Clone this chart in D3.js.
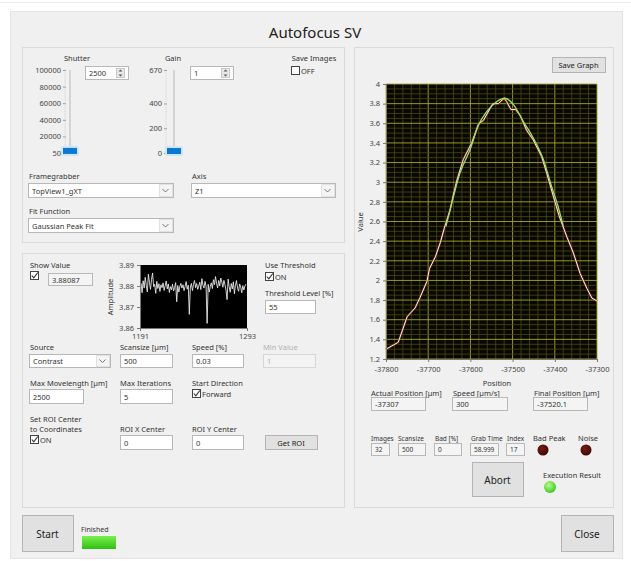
<!DOCTYPE html>
<html>
<head>
<meta charset="utf-8">
<script src="https://cdn.jsdelivr.net/npm/d3@7"></script>
<style>
  body { margin: 0; background: #ffffff; }
  svg { display: block; font-family: "Noto Sans", "DejaVu Sans", sans-serif; }
</style>
</head>
<body>
<svg id="panel" width="631" height="561"></svg>
<script>
// ---- Focus scan: measured contrast along the Z1 axis ----
const scanPositions = [-37800, -37771, -37750, -37731, -37719, -37703, -37697, -37683, -37671, -37662,
  -37648, -37640, -37632, -37617, -37597, -37581, -37569, -37547, -37534, -37520,
  -37514, -37504, -37493, -37482, -37467, -37451, -37431, -37419, -37403, -37390,
  -37372, -37356, -37340, -37324, -37312, -37300];
const scanValues = [1.30, 1.37, 1.63, 1.72, 1.83, 1.99, 2.12, 2.24, 2.39, 2.53,
  2.72, 2.88, 3.02, 3.23, 3.40, 3.59, 3.63, 3.80, 3.80, 3.855,
  3.82, 3.74, 3.74, 3.68, 3.53, 3.43, 3.26, 3.09, 2.85, 2.66,
  2.45, 2.28, 2.07, 1.92, 1.82, 1.79];

// Gaussian peak fit above the threshold level
const fitPositions = [-37658, -37648, -37625, -37601, -37581, -37561, -37538, -37518, -37498, -37475,
  -37451, -37427, -37407, -37392, -37380];
const fitValues = [2.55, 2.72, 3.09, 3.33, 3.58, 3.72, 3.82, 3.855, 3.79, 3.62,
  3.45, 3.23, 2.95, 2.75, 2.55];

const valueTicks = [1.2, 1.4, 1.6, 1.8, 2, 2.2, 2.4, 2.6, 2.8, 3, 3.2, 3.4, 3.6, 3.8, 4];
const positionTicks = [-37800, -37700, -37600, -37500, -37400, -37300];

// ---- Live amplitude trace (frames 1191..1293) ----
const amplitudeFrames = [1191, 1293];
const amplitudeValues = [3.8795, 3.8812, 3.8768, 3.8825, 3.8790, 3.8841, 3.8803, 3.8772, 3.8856, 3.8818,
  3.8784, 3.8832, 3.8862, 3.8797, 3.8808, 3.8765, 3.8822, 3.8788, 3.8811, 3.8774,
  3.8806, 3.8792, 3.8815, 3.8779, 3.8801, 3.8824, 3.8786, 3.8810, 3.8769, 3.8797,
  3.8782, 3.8809, 3.8776, 3.8793, 3.8816, 3.8725, 3.8802, 3.8771, 3.8799, 3.8812,
  3.8790, 3.8806, 3.8778, 3.8798, 3.8821, 3.8785, 3.8804, 3.8665, 3.8795, 3.8812,
  3.8778, 3.8808, 3.8826, 3.8792, 3.8812, 3.8784, 3.8800, 3.8818, 3.8783, 3.8835,
  3.8804, 3.8790, 3.8822, 3.8796, 3.8622, 3.8808, 3.8771, 3.8798, 3.8815, 3.8788,
  3.8830, 3.8806, 3.8845, 3.8812, 3.8791, 3.8826, 3.8800, 3.8838, 3.8819, 3.8794,
  3.8827, 3.8806, 3.8779, 3.8735, 3.8833, 3.8797, 3.8770, 3.8812, 3.8786, 3.8820,
  3.8763, 3.8804, 3.8826, 3.8789, 3.8775, 3.8810, 3.8795, 3.8768, 3.8802, 3.8781,
  3.8799, 3.88087];
const amplitudeTicks = [3.86, 3.87, 3.88, 3.89];

// ---- Slider scales ----
const shutterTicks = [100000, 80000, 60000, 40000, 20000, 50];
const shutterValue = 2500;
const gainTicks = [670, 400, 200, 0];
const gainValue = 1;

const svg = d3.select("#panel");
const defs = svg.append("defs");

// ---------- helpers ----------
const TXT = "#333333";
const LBL = 7.5;
function txt(x, y, s, o = {}) {
  return svg.append("text")
    .attr("x", x).attr("y", y)
    .attr("font-size", o.size || LBL)
    .attr("text-anchor", o.anchor || "start")
    .attr("dominant-baseline", "central")
    .attr("fill", o.fill || TXT)
    .text(s);
}
function frame(x, y, w, h, fill, stroke) {
  return svg.append("rect").attr("x", x + 0.5).attr("y", y + 0.5)
    .attr("width", w).attr("height", h)
    .attr("fill", fill).attr("stroke", stroke).attr("stroke-width", 1);
}
function box(x, y, w, h, s, o = {}) {
  frame(x, y, w, h, o.fill || "#ffffff", o.stroke || "#b8b8b8");
  txt(x + 4, y + h / 2 + 0.5, s, { fill: o.fill2 || TXT, size: o.size || LBL });
}
function dropdown(x, y, w, h, s) {
  box(x, y, w, h, s);
  frame(x + w - 14, y + 1, 13, h - 2, "#f4f4f4", "#e2e2e2");
  const cx = x + w - 7.5, cy = y + h / 2 + 0.5;
  svg.append("path").attr("d", `M${cx - 3},${cy - 1.5}L${cx},${cy + 1.5}L${cx + 3},${cy - 1.5}`)
    .attr("fill", "none").attr("stroke", "#777").attr("stroke-width", 1);
}
function spinner(x, y, w, h, s) {
  box(x, y, w, h, s);
  const bx = x + w - 12;
  frame(bx, y + 2, 8, h - 4, "#e8e8e8", "#c8c8c8");
  const cx = bx + 4.5;
  svg.append("path").attr("d", `M${cx - 2},${y + 5.5}L${cx + 2},${y + 5.5}L${cx},${y + 3.5}Z`).attr("fill", "#555");
  svg.append("path").attr("d", `M${cx - 2},${y + h - 4.5}L${cx + 2},${y + h - 4.5}L${cx},${y + h - 2.5}Z`).attr("fill", "#555");
}
function checkbox(x, y, checked, label) {
  frame(x, y, 8, 8, "#ffffff", "#444");
  if (checked) {
    svg.append("path").attr("d", `M${x + 1.8},${y + 4.5}L${x + 3.8},${y + 6.8}L${x + 7.8},${y + 1.5}`)
      .attr("fill", "none").attr("stroke", "#333").attr("stroke-width", 1.1);
  }
  if (label) txt(x + 10, y + 4.5, label);
}
function button(x, y, w, h, s, size) {
  frame(x, y, w, h, "#e1e1e1", "#b4b4b4");
  txt(x + w / 2, y + h / 2 + 0.5, s, { anchor: "middle", size: size || LBL, fill: "#222" });
}
function led(cx, cy, r, id, c0, c1) {
  const g = defs.append("radialGradient").attr("id", id).attr("cx", "40%").attr("cy", "35%").attr("r", "70%");
  g.append("stop").attr("offset", "0%").attr("stop-color", c0);
  g.append("stop").attr("offset", "100%").attr("stop-color", c1);
  svg.append("circle").attr("cx", cx).attr("cy", cy).attr("r", r).attr("fill", `url(#${id})`);
}
function styleAxis(g) {
  g.selectAll("text").attr("font-size", 7.5).attr("fill", "#444").attr("font-family", "Noto Sans, sans-serif");
  g.selectAll("line").attr("stroke", "#777");
  g.select(".domain").attr("stroke", "#777");
}

// ---------- window background ----------
svg.append("line").attr("x1", 0).attr("x2", 631).attr("y1", 2.5).attr("y2", 2.5).attr("stroke", "#ececec");
frame(10, 11, 612, 547, "#f0f0f0", "#e4e4e4");
txt(315, 32, "Autofocus SV", { anchor: "middle", size: 15, fill: "#222" });

// group panels
frame(22, 47, 322, 195, "#f0f0f0", "#dadada");
frame(22, 253, 322, 254, "#f0f0f0", "#dadada");
frame(354, 47, 259, 460, "#f0f0f0", "#dadada");

// ---------- camera sliders ----------
function slider(trackX, labelRight, title, ticks, maxV, value, titleX) {
  const s = d3.scaleLinear().domain([0, maxV]).range([153, 70]);
  txt(titleX, 58, title, { anchor: "middle" });
  ticks.forEach(t => {
    txt(labelRight, s(t), String(t), { anchor: "end", size: 7.5, fill: "#444" });
    svg.append("line").attr("x1", labelRight + 2).attr("x2", labelRight + 5)
      .attr("y1", s(t) + 0.5).attr("y2", s(t) + 0.5).attr("stroke", "#999");
  });
  // minor tick marks between labels
  d3.range(0, 41).forEach(i => {
    const yy = 70 + i * (83 / 40);
    svg.append("line").attr("x1", labelRight + 3).attr("x2", labelRight + 5)
      .attr("y1", yy).attr("y2", yy).attr("stroke", "#d0d0d0").attr("stroke-width", 0.5);
  });
  svg.append("line").attr("x1", trackX).attr("x2", trackX).attr("y1", 70).attr("y2", 153)
    .attr("stroke", "#d4d4d4").attr("stroke-width", 2);
  const ty = s(value);
  svg.append("rect").attr("x", trackX - 9).attr("y", Math.min(ty, 151) - 5).attr("width", 18).attr("height", 10)
    .attr("rx", 2).attr("fill", "#cfe6f8");
  svg.append("rect").attr("x", trackX - 7).attr("y", Math.min(ty, 151) - 3).attr("width", 14).attr("height", 6)
    .attr("fill", "#0a78d4");
}
slider(70, 61, "Shutter", shutterTicks, 100000, shutterValue, 77);
slider(174, 162, "Gain", gainTicks, 670, gainValue, 173);
spinner(85, 66, 43, 13, String(shutterValue));
spinner(190, 66, 43, 13, String(gainValue));

txt(314, 58, "Save Images", { anchor: "middle" });
checkbox(291, 66, false, "OFF");

txt(29, 176, "Framegrabber");
dropdown(28, 183, 145, 14, "TopView1_gXT");
txt(192, 176, "Axis");
dropdown(191, 183, 144, 14, "Z1");
txt(29, 211, "Fit Function");
dropdown(28, 218, 145, 14, "Gaussian Peak Fit");

// ---------- acquisition settings ----------
txt(30, 265, "Show Value");
checkbox(30, 271, true);
box(48, 273, 44, 12, "3.88087", { fill: "#f4f4f4" });

// live amplitude trace
const aX = d3.scaleLinear().domain(amplitudeFrames).range([140, 247]);
const aY = d3.scaleLinear().domain([3.86, 3.89]).range([328, 265]);
svg.append("rect").attr("x", 140).attr("y", 265).attr("width", 107).attr("height", 63).attr("fill", "#000");
const ampLine = d3.line().x((d, i) => aX(amplitudeFrames[0] + i)).y(d => aY(d));
svg.append("path").datum(amplitudeValues).attr("d", ampLine)
  .attr("fill", "none").attr("stroke", "#e8e8e8").attr("stroke-width", 0.9);
const aLeft = svg.append("g").attr("transform", "translate(140,0)")
  .call(d3.axisLeft(aY).tickValues(amplitudeTicks).tickSize(3).tickFormat(d3.format(".2f")));
const aBottom = svg.append("g").attr("transform", "translate(0,328)")
  .call(d3.axisBottom(aX).tickValues(amplitudeFrames).tickSize(3).tickFormat(d => String(d)));
styleAxis(aLeft);
styleAxis(aBottom);
aBottom.selectAll("text").attr("dy", "0.6em");
svg.append("text").attr("transform", "translate(110,297) rotate(-90)")
  .attr("text-anchor", "middle").attr("dominant-baseline", "central")
  .attr("font-size", LBL).attr("fill", TXT).text("Amplitude");

txt(265, 265, "Use Threshold");
checkbox(265, 272, true, "ON");
txt(265, 293, "Threshold Level [%]");
box(265, 300, 50, 13, "55");

txt(30, 347, "Source");
dropdown(29, 354, 81, 13, "Contrast");
txt(120, 347, "Scansize [µm]");
box(120, 354, 52, 13, "500");
txt(192, 347, "Speed [%]");
box(192, 354, 51, 13, "0.03");
txt(263, 347, "Min Value", { fill: "#b0b0b0" });
box(263, 354, 52, 13, "1", { fill: "#f3f3f3", stroke: "#d6d6d6", fill2: "#b0b0b0" });

txt(30, 383, "Max Movelength [µm]");
box(29, 389, 54, 14, "2500");
txt(120, 383, "Max Iterations");
box(120, 389, 52, 14, "5");
txt(192, 383, "Start Direction");
checkbox(192, 389, true, "Forward");

txt(30, 419, "Set ROI Center");
txt(30, 429, "to Coordinates");
checkbox(30, 435, true, "ON");
txt(120, 429, "ROI X Center");
box(120, 435, 52, 14, "0");
txt(192, 429, "ROI Y Center");
box(192, 435, 51, 14, "0");
button(265, 435, 52, 14, "Get ROI");

// ---------- focus scan graph ----------
button(552, 57, 53, 15, "Save Graph");
const x = d3.scaleLinear().domain([-37800, -37300]).range([386, 597]);
const y = d3.scaleLinear().domain([1.2, 4]).range([359, 84]);
svg.append("rect").attr("x", 386).attr("y", 84).attr("width", 211).attr("height", 275).attr("fill", "#080800");
const grid = svg.append("g");
d3.range(-37800, -37299, 20).forEach(v => {
  const major = positionTicks.includes(v);
  grid.append("line").attr("x1", x(v)).attr("x2", x(v)).attr("y1", 84).attr("y2", 359)
    .attr("stroke", major ? "#a8a828" : "#4a4a10").attr("stroke-width", major ? 0.9 : 0.8);
});
d3.range(0, 57).map(i => 1.2 + i * 0.05).forEach((v, i) => {
  const major = i % 4 === 0;
  grid.append("line").attr("x1", 386).attr("x2", 597).attr("y1", y(v)).attr("y2", y(v))
    .attr("stroke", major ? "#a8a828" : "#4a4a10").attr("stroke-width", major ? 0.9 : 0.8);
});

const scan = scanPositions.map((p, i) => [p, scanValues[i]]);
const fit = fitPositions.map((p, i) => [p, fitValues[i]]);
const line = d3.line().x(d => x(d[0])).y(d => y(d[1]));
svg.append("path").datum(scan).attr("d", line)
  .attr("fill", "none").attr("stroke", "#8a2a22").attr("stroke-width", 2.2).attr("stroke-opacity", 0.8);
svg.append("path").datum(scan).attr("d", line)
  .attr("fill", "none").attr("stroke", "#f4f4ea").attr("stroke-width", 1);
svg.append("path").datum(fit).attr("d", line.curve(d3.curveMonotoneX))
  .attr("fill", "none").attr("stroke", "#9ede5a").attr("stroke-width", 1.3);

const yAxis = svg.append("g").attr("transform", "translate(386,0)")
  .call(d3.axisLeft(y).tickValues(valueTicks).tickSize(3).tickFormat(d3.format("~g")));
const xAxis = svg.append("g").attr("transform", "translate(0,359)")
  .call(d3.axisBottom(x).tickValues(positionTicks).tickSize(3).tickFormat(d => String(d)));
styleAxis(yAxis);
styleAxis(xAxis);
xAxis.selectAll("text").attr("dy", "0.95em");
yAxis.selectAll("text").attr("dy", "0.3em");
txt(497, 383, "Position", { anchor: "middle" });
svg.append("text").attr("transform", "translate(360,222) rotate(-90)")
  .attr("text-anchor", "middle").attr("dominant-baseline", "central")
  .attr("font-size", LBL).attr("fill", TXT).text("Value");

// ---------- scan status ----------
txt(371, 393, "Actual Position [µm]");
box(371, 397, 54, 13, "-37307", { fill: "#f4f4f4" });
txt(453, 393, "Speed [µm/s]");
box(452, 397, 55, 13, "300", { fill: "#f4f4f4" });
txt(534, 393, "Final Position [µm]");
box(533, 397, 54, 13, "-37520.1", { fill: "#f4f4f4" });

txt(371, 438, "Images", { size: 6.5 });
txt(398, 438, "Scansize", { size: 6.5 });
txt(435, 438, "Bad [%]", { size: 6.5 });
txt(471, 438, "Grab Time", { size: 6.5 });
txt(507, 438, "Index", { size: 6.5 });
box(371, 443, 18, 12, "32", { fill: "#f4f4f4", size: 6.5 });
box(398, 443, 27, 12, "500", { fill: "#f4f4f4", size: 6.5 });
box(434, 443, 27, 12, "0", { fill: "#f4f4f4", size: 6.5 });
box(470, 443, 28, 12, "58.999", { fill: "#f4f4f4", size: 6.5 });
box(506, 443, 18, 12, "17", { fill: "#f4f4f4", size: 6.5 });
txt(533, 438, "Bad Peak");
txt(578, 438, "Noise");
led(543, 450, 5.5, "ledBad", "#7a1a14", "#3a0604");
led(586, 450, 5.5, "ledNoise", "#7a1a14", "#3a0604");
button(472, 462, 51, 34, "Abort", 10);
txt(543, 475, "Execution Result");
led(550, 487, 6, "ledExec", "#b4ff8a", "#3cc41a");

// ---------- run controls ----------
button(22, 515, 51, 36, "Start", 10);
txt(81, 529, "Finished", { size: 7 });
const fg = defs.append("linearGradient").attr("id", "finished").attr("x1", "0").attr("y1", "0").attr("x2", "0").attr("y2", "1");
fg.append("stop").attr("offset", "0%").attr("stop-color", "#7cf04c");
fg.append("stop").attr("offset", "100%").attr("stop-color", "#2fbf12");
svg.append("rect").attr("x", 82).attr("y", 536).attr("width", 34).attr("height", 13).attr("fill", "url(#finished)");
button(561, 515, 52, 36, "Close", 10);
</script>
</body>
</html>
